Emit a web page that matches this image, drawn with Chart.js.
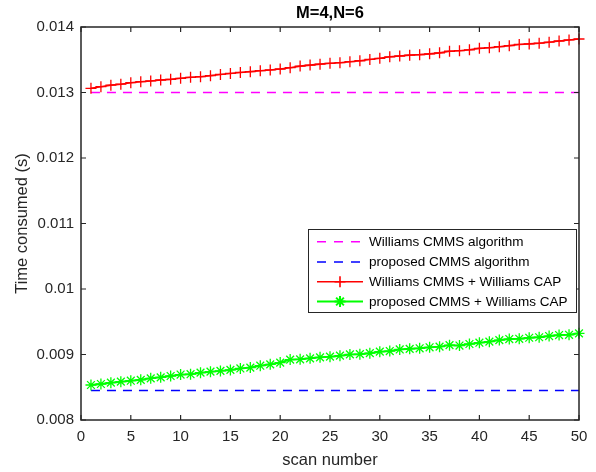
<!DOCTYPE html>
<html>
<head>
<meta charset="utf-8">
<script src="https://cdn.jsdelivr.net/npm/chart.js@4/dist/chart.umd.min.js"></script>
<style>
  html, body { margin: 0; padding: 0; background: #fff; }
  #wrap { width: 596px; height: 472px; position: relative; }
</style>
</head>
<body>
<div id="wrap"><canvas id="c" width="596" height="472"></canvas></div>
<script>
// ---------- data ----------
const chartTitle = "M=4,N=6";
const xAxisTitle = "scan number";
const yAxisTitle = "Time consumed (s)";
const xTickValues = [0, 5, 10, 15, 20, 25, 30, 35, 40, 45, 50];
const yTickValues = [0.008, 0.009, 0.010, 0.011, 0.012, 0.013, 0.014];
const yTickLabels = ["0.008", "0.009", "0.01", "0.011", "0.012", "0.013", "0.014"];
const seriesNames = [
  "Williams CMMS algorithm",
  "proposed CMMS algorithm",
  "Williams CMMS + Williams CAP",
  "proposed CMMS + Williams CAP"
];
const scans = [1,2,3,4,5,6,7,8,9,10,11,12,13,14,15,16,17,18,19,20,21,22,23,24,25,
               26,27,28,29,30,31,32,33,34,35,36,37,38,39,40,41,42,43,44,45,46,47,48,49,50];
const williamsCMMS = [0.013,0.013,0.013,0.013,0.013,0.013,0.013,0.013,0.013,0.013,
                      0.013,0.013,0.013,0.013,0.013,0.013,0.013,0.013,0.013,0.013,
                      0.013,0.013,0.013,0.013,0.013,0.013,0.013,0.013,0.013,0.013,
                      0.013,0.013,0.013,0.013,0.013,0.013,0.013,0.013,0.013,0.013,
                      0.013,0.013,0.013,0.013,0.013,0.013,0.013,0.013,0.013,0.013];
const proposedCMMS = [0.00845,0.00845,0.00845,0.00845,0.00845,0.00845,0.00845,0.00845,0.00845,0.00845,
                      0.00845,0.00845,0.00845,0.00845,0.00845,0.00845,0.00845,0.00845,0.00845,0.00845,
                      0.00845,0.00845,0.00845,0.00845,0.00845,0.00845,0.00845,0.00845,0.00845,0.00845,
                      0.00845,0.00845,0.00845,0.00845,0.00845,0.00845,0.00845,0.00845,0.00845,0.00845,
                      0.00845,0.00845,0.00845,0.00845,0.00845,0.00845,0.00845,0.00845,0.00845,0.00845];
const williamsCAP = [0.013064,0.013089,0.013112,0.013127,0.013150,0.013165,0.013176,0.013191,0.013201,0.013217,
                     0.013232,0.013241,0.013257,0.013276,0.013291,0.013306,0.013318,0.013333,0.013344,0.013359,
                     0.013379,0.013403,0.013418,0.013433,0.013446,0.013455,0.013470,0.013485,0.013505,0.013522,
                     0.013545,0.013557,0.013570,0.013578,0.013590,0.013605,0.013630,0.013638,0.013652,0.013674,
                     0.013684,0.013699,0.013715,0.013734,0.013742,0.013753,0.013768,0.013786,0.013802,0.013817];
const proposedCAP = [0.008534,0.008550,0.008570,0.008585,0.008600,0.008613,0.008636,0.008651,0.008672,0.008694,
                     0.008699,0.008723,0.008738,0.008750,0.008765,0.008787,0.008800,0.008829,0.008850,0.008877,
                     0.008922,0.008926,0.008941,0.008957,0.008967,0.008982,0.009001,0.009005,0.009020,0.009043,
                     0.009053,0.009077,0.009086,0.009095,0.009110,0.009120,0.009143,0.009137,0.009160,0.009180,
                     0.009196,0.009220,0.009236,0.009240,0.009256,0.009263,0.009282,0.009297,0.009301,0.009323];

// ---------- styling ----------
const AXIS_COLOR = '#262626';
const FONT = '"Liberation Sans", Arial, Helvetica, sans-serif';
const seriesStyles = [
  { color: '#ff00ff', dash: [9, 7], width: 1.5, marker: null, r: 0 },
  { color: '#0000ff', dash: [9, 7], width: 1.5, marker: null, r: 0 },
  { color: '#ff0000', dash: [], width: 1.6, marker: 'cross', r: 5.5 },
  { color: '#00ff00', dash: [], width: 2, marker: 'star', r: 5.5 }
];
const seriesValues = [williamsCMMS, proposedCMMS, williamsCAP, proposedCAP];

function pts(vals) { return scans.map((s, i) => ({ x: s, y: vals[i] })); }

const datasets = seriesValues.map((vals, i) => {
  const st = seriesStyles[i];
  return {
    label: seriesNames[i],
    data: pts(vals),
    borderColor: st.color,
    backgroundColor: st.color,
    borderWidth: st.width,
    borderDash: st.dash,
    pointStyle: st.marker || 'circle',
    pointRadius: st.r,
    pointHoverRadius: st.r,
    pointBorderColor: st.color,
    pointBackgroundColor: st.color,
    pointBorderWidth: 1.3,
    tension: 0,
    fill: false,
    clip: false,
    order: 4 - i
  };
});

const decor = {
  id: 'decor',
  afterDatasetsDraw(chart) {
    const ctx = chart.ctx;
    const ca = chart.chartArea;
    const xs = chart.scales.x, ys = chart.scales.y;
    ctx.save();
    // axes box
    ctx.strokeStyle = AXIS_COLOR;
    ctx.lineWidth = 1.5;
    ctx.setLineDash([]);
    ctx.strokeRect(ca.left, ca.top, ca.right - ca.left, ca.bottom - ca.top);
    // inward ticks
    ctx.lineWidth = 1.2;
    const tl = 5;
    ctx.beginPath();
    xTickValues.forEach(v => {
      const px = xs.getPixelForValue(v);
      ctx.moveTo(px, ca.bottom); ctx.lineTo(px, ca.bottom - tl);
      ctx.moveTo(px, ca.top); ctx.lineTo(px, ca.top + tl);
    });
    yTickValues.forEach(v => {
      const py = ys.getPixelForValue(v);
      ctx.moveTo(ca.left, py); ctx.lineTo(ca.left + tl, py);
      ctx.moveTo(ca.right, py); ctx.lineTo(ca.right - tl, py);
    });
    ctx.stroke();

    // title
    ctx.fillStyle = '#000';
    ctx.font = 'bold 16.5px ' + FONT;
    ctx.textAlign = 'center';
    ctx.textBaseline = 'middle';
    ctx.fillText(chartTitle, (ca.left + ca.right) / 2, 13);

    // axis titles
    ctx.fillStyle = AXIS_COLOR;
    ctx.font = '16.5px ' + FONT;
    ctx.fillText(xAxisTitle, (ca.left + ca.right) / 2, 460);
    ctx.save();
    ctx.translate(22, (ca.top + ca.bottom) / 2);
    ctx.rotate(-Math.PI / 2);
    ctx.fillText(yAxisTitle, 0, 0);
    ctx.restore();

    // legend
    const lx = 308.5, ly = 229.5, lw = 268, lh = 83;
    ctx.fillStyle = '#fff';
    ctx.fillRect(lx, ly, lw, lh);
    ctx.strokeStyle = AXIS_COLOR;
    ctx.lineWidth = 1;
    ctx.strokeRect(lx, ly, lw, lh);
    const rowY = [241.7, 262, 281.7, 301.5];
    ctx.font = '13.5px ' + FONT;
    ctx.textAlign = 'left';
    ctx.textBaseline = 'middle';
    seriesNames.forEach((name, i) => {
      const st = seriesStyles[i];
      const y = rowY[i];
      ctx.strokeStyle = st.color;
      ctx.lineWidth = st.width;
      ctx.setLineDash(st.dash.length ? [9, 8] : []);
      ctx.beginPath();
      ctx.moveTo(317, y); ctx.lineTo(363, y);
      ctx.stroke();
      ctx.setLineDash([]);
      if (st.marker) {
        ctx.strokeStyle = st.color;
        ctx.fillStyle = st.color;
        Chart.helpers.drawPoint(ctx, {
          pointStyle: st.marker, radius: st.r, rotation: 0, borderWidth: 1.3
        }, 340, y);
      }
      ctx.fillStyle = '#000';
      ctx.fillText(name, 369, y + 0.5);
    });
    ctx.restore();
  }
};

new Chart(document.getElementById('c'), {
  type: 'line',
  data: { datasets },
  options: {
    responsive: false,
    animation: false,
    events: [],
    layout: { padding: { left: 0, top: 27, right: 17, bottom: 0 } },
    plugins: { legend: { display: false }, title: { display: false }, tooltip: { enabled: false } },
    scales: {
      x: {
        type: 'linear', min: 0, max: 50,
        afterFit(s) { s.height = 52; },
        afterBuildTicks(s) { s.ticks = xTickValues.map(v => ({ value: v })); },
        grid: { display: false, drawTicks: false },
        border: { display: false },
        ticks: { color: AXIS_COLOR, font: { family: FONT, size: 15 }, padding: 8, maxRotation: 0, autoSkip: false,
                 callback: v => String(v) }
      },
      y: {
        type: 'linear', min: 0.008, max: 0.014,
        afterFit(s) { s.width = 81; },
        afterBuildTicks(s) { s.ticks = yTickValues.map(v => ({ value: v })); },
        grid: { display: false, drawTicks: false },
        border: { display: false },
        ticks: { color: AXIS_COLOR, font: { family: FONT, size: 15 }, padding: 7, autoSkip: false,
                 callback: (v) => { const k = yTickValues.findIndex(t => Math.abs(t - v) < 1e-9); return k >= 0 ? yTickLabels[k] : ''; } }
      }
    }
  },
  plugins: [decor]
});
</script>
</body>
</html>
